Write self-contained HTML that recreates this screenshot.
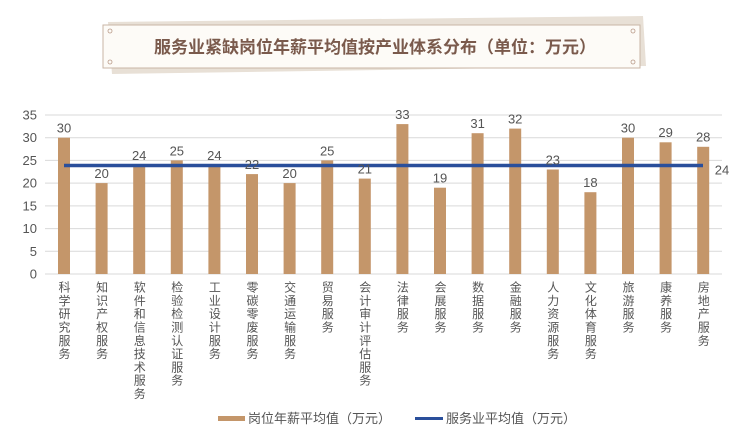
<!DOCTYPE html>
<html><head><meta charset="utf-8"><style>
body{margin:0;width:753px;height:448px;background:#fff;overflow:hidden;position:relative;font-family:"Liberation Sans","Noto Sans CJK SC",sans-serif}
.lb{position:absolute;top:281px;writing-mode:vertical-rl;font-size:12px;line-height:12px;letter-spacing:1.3px;color:#555;font-family:"Noto Sans CJK SC",sans-serif}
</style></head><body>
<svg width="753" height="448" style="position:absolute;left:0;top:0">
<polygon points="108,22 643,16 646,66 112,74" fill="#e8e0d6"/>
<rect x="103" y="25" width="537" height="43" fill="#fdfbf7" stroke="#c9b6a6" stroke-width="1"/>
<g fill="none" stroke="#b89a88" stroke-width="0.8"><circle cx="110" cy="31" r="2"/><circle cx="110" cy="62" r="2"/><circle cx="633" cy="31" r="2"/><circle cx="633" cy="62" r="2"/></g>
<text x="375" y="53" text-anchor="middle" font-size="17" font-weight="bold" fill="#7a5a4c" font-family="Noto Sans CJK SC,sans-serif">服务业紧缺岗位年薪平均值按产业体系分布（单位：万元）</text>
<g stroke="#d9d9d9" stroke-width="1">
<line x1="45" x2="722" y1="274" y2="274"/><line x1="45" x2="722" y1="251.3" y2="251.3"/><line x1="45" x2="722" y1="228.6" y2="228.6"/><line x1="45" x2="722" y1="205.9" y2="205.9"/><line x1="45" x2="722" y1="183.1" y2="183.1"/><line x1="45" x2="722" y1="160.4" y2="160.4"/><line x1="45" x2="722" y1="137.7" y2="137.7"/><line x1="45" x2="722" y1="115" y2="115"/>
</g>
<g font-size="13" fill="#555" text-anchor="end">
<text x="37" y="278.5">0</text><text x="37" y="255.8">5</text><text x="37" y="233">10</text><text x="37" y="210.3">15</text><text x="37" y="187.6">20</text><text x="37" y="164.9">25</text><text x="37" y="142.2">30</text><text x="37" y="119.5">35</text>
</g>
<g fill="#c4966a">
<rect x="58" y="137.7" width="12" height="136.3"/>
<rect x="95.6" y="183.1" width="12" height="90.9"/>
<rect x="133.2" y="165" width="12" height="109"/>
<rect x="170.8" y="160.4" width="12" height="113.6"/>
<rect x="208.4" y="165" width="12" height="109"/>
<rect x="246" y="174.1" width="12" height="99.9"/>
<rect x="283.6" y="183.1" width="12" height="90.9"/>
<rect x="321.2" y="160.4" width="12" height="113.6"/>
<rect x="358.8" y="178.6" width="12" height="95.4"/>
<rect x="396.4" y="124.1" width="12" height="149.9"/>
<rect x="434" y="187.7" width="12" height="86.3"/>
<rect x="471.6" y="133.2" width="12" height="140.8"/>
<rect x="509.2" y="128.6" width="12" height="145.4"/>
<rect x="546.8" y="169.5" width="12" height="104.5"/>
<rect x="584.4" y="192.2" width="12" height="81.8"/>
<rect x="622" y="137.7" width="12" height="136.3"/>
<rect x="659.6" y="142.3" width="12" height="131.7"/>
<rect x="697.2" y="146.8" width="12" height="127.2"/>
</g>
<line x1="64" x2="703" y1="165.5" y2="165.5" stroke="#2a4f9b" stroke-width="3.5"/>
<g font-size="13" fill="#555" text-anchor="middle">
<text x="64" y="132.5">30</text><text x="101.6" y="178">20</text><text x="139.2" y="160">24</text><text x="176.8" y="155.4">25</text><text x="214.4" y="160">24</text><text x="252" y="169">22</text><text x="289.6" y="178">20</text><text x="327.2" y="155.4">25</text><text x="364.8" y="173.5">21</text><text x="402.4" y="119">33</text><text x="440" y="182.5">19</text><text x="477.6" y="128">31</text><text x="515.2" y="123.5">32</text><text x="552.8" y="164.5">23</text><text x="590.4" y="187">18</text><text x="628" y="132.5">30</text><text x="665.6" y="137">29</text><text x="703.2" y="141.5">28</text>
<text x="722" y="174.5" text-anchor="middle">24</text>
</g>
<rect x="218" y="416" width="27" height="5" fill="#c4966a"/>
<line x1="415" x2="443" y1="418.5" y2="418.5" stroke="#2a4f9b" stroke-width="3"/>
<g font-size="13" fill="#555" font-family="Noto Sans CJK SC,sans-serif">
<text x="248" y="423">岗位年薪平均值（万元）</text>
<text x="446" y="423">服务业平均值（万元）</text>
</g>
</svg>
<div class="lb" style="left:58px">科学研究服务</div>
<div class="lb" style="left:95.6px">知识产权服务</div>
<div class="lb" style="left:133.2px">软件和信息技术服务</div>
<div class="lb" style="left:170.8px">检验检测认证服务</div>
<div class="lb" style="left:208.4px">工业设计服务</div>
<div class="lb" style="left:246px">零碳零废服务</div>
<div class="lb" style="left:283.6px">交通运输服务</div>
<div class="lb" style="left:321.2px">贸易服务</div>
<div class="lb" style="left:358.8px">会计审计评估服务</div>
<div class="lb" style="left:396.4px">法律服务</div>
<div class="lb" style="left:434px">会展服务</div>
<div class="lb" style="left:471.6px">数据服务</div>
<div class="lb" style="left:509.2px">金融服务</div>
<div class="lb" style="left:546.8px">人力资源服务</div>
<div class="lb" style="left:584.4px">文化体育服务</div>
<div class="lb" style="left:622px">旅游服务</div>
<div class="lb" style="left:659.6px">康养服务</div>
<div class="lb" style="left:697.2px">房地产服务</div>
</body></html>
